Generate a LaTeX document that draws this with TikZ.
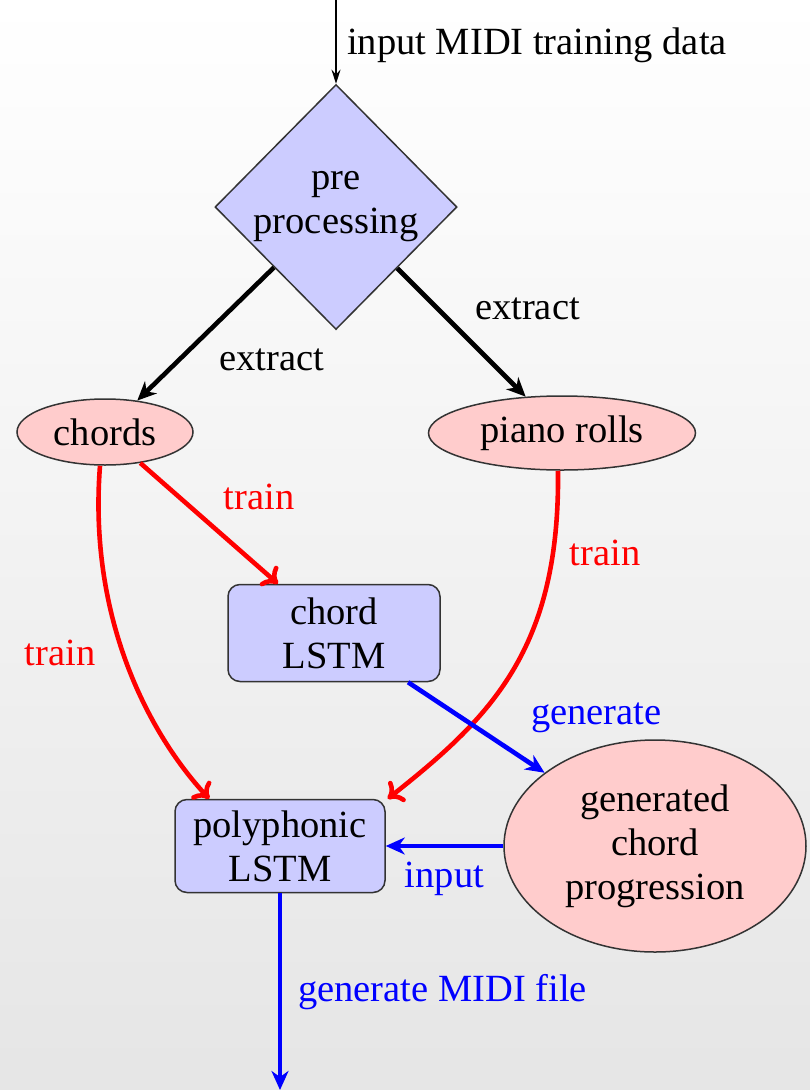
\documentclass[tikz,border=0pt]{standalone}
\usepackage{fontspec}
\setmainfont{Liberation Serif}
\usetikzlibrary{shapes.geometric,arrows.meta,calc}

\definecolor{boxblue}{RGB}{204,204,255}
\definecolor{blobred}{RGB}{255,204,204}

\tikzset{
  txt/.style={font=\fontsize{38.5}{44}\selectfont, inner sep=0pt},
  decide/.style={diamond, draw=black!80, line width=1.5pt, fill=boxblue,
    minimum width=242pt, minimum height=245pt, txt, align=center},
  blob/.style={ellipse, draw=black!80, line width=1.5pt, fill=blobred, txt, align=center},
  model/.style={rectangle, rounded corners=12pt, draw=black!80, line width=1.5pt,
    fill=boxblue, txt, align=center},
  feed/.style={line width=1.3pt, -{Stealth[length=14pt,width=9pt]}},
  extractarrow/.style={line width=4.6pt, black, -{Stealth[length=19pt,width=17pt,inset=6pt]}},
  trainarrow/.style={line width=4.6pt, red, -{To[length=14pt,width=26pt]}},
  genarrow/.style={line width=4.6pt, blue, -{Stealth[length=19pt,width=17pt,inset=6pt]}},
  lab/.style={txt},
}

\begin{document}
\begin{tikzpicture}[x=1pt, y=-1pt]
  % page and soft vertical shading
  \shade[top color=white, bottom color=gray!20] (0,0) rectangle (810,1090);
  \useasboundingbox (0,0) rectangle (810,1090);

  % nodes
  \node[decide] (pre) at (336,207) {pre\\processing};
  \node[blob, minimum width=176pt, minimum height=66pt] (chords) at (105,432) {chords};
  \node[blob, minimum width=267pt, minimum height=74pt] (piano) at (562,433) {piano rolls};
  \node[model, minimum width=212pt, minimum height=97pt] (chordlstm) at (334,633) {chord\\LSTM};
  \node[model, minimum width=210pt, minimum height=93pt] (poly) at (280,846) {polyphonic\\LSTM};
  \node[blob, minimum width=302pt, minimum height=212pt] (gen) at (655,846) {generated\\chord\\progression};

  \coordinate (src) at (336,0);
  \coordinate (out) at (280,1090);

  % input data
  \draw[feed] (src) -- (pre.north);
  \node[lab, anchor=west] (inlab) at (347,45) {input MIDI training data};

  % extraction
  \draw[extractarrow] (pre) -- (chords)
    node[lab, midway, xshift=66pt, yshift=-26pt] {extract};
  \draw[extractarrow] (pre) -- (piano)
    node[lab, midway, xshift=66pt, yshift=24pt] {extract};

  % training
  \draw[trainarrow] (chords) -- (chordlstm)
    node[lab, midway, text=red, xshift=50pt, yshift=26pt] {train};
  \draw[trainarrow] ($(chords.south)+(-5,0)$) .. controls (88,620) and (150,735) .. ($(poly.north west)+(35,0)$);
  \node[lab, text=red] (trainl) at (60,653) {train};
  \draw[trainarrow] ($(piano.south)+(-4,0)$) .. controls (560,650) and (490,718) .. ($(poly.north east)+(2,0)$);
  \node[lab, text=red] (trainr) at (605,553) {train};

  % generation
  \draw[genarrow] (chordlstm) -- (gen)
    node[lab, midway, text=blue, xshift=120pt, yshift=10pt] {generate};
  \draw[genarrow] (gen.west) -- (poly.east)
    node[lab, midway, text=blue, yshift=-33pt] {input};
  \draw[genarrow] (poly.south) -- (out)
    node[lab, text=blue, anchor=west, pos=0.5, xshift=16pt] {generate MIDI file};
\end{tikzpicture}
\end{document}
